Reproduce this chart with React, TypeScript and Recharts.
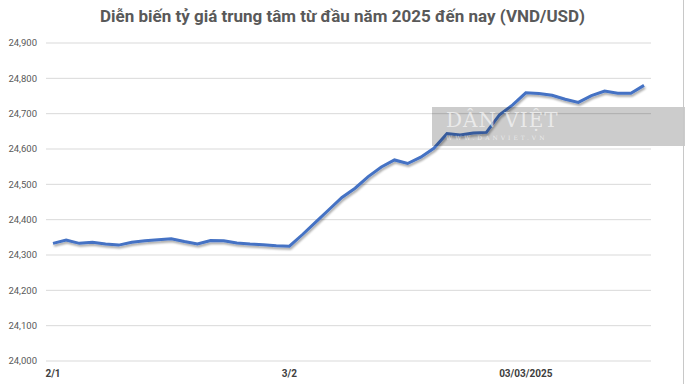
import React from 'react';
import { LineChart, Line, XAxis, YAxis, CartesianGrid } from 'recharts';

const dates = [
  '2/1', '3/1', '6/1', '7/1', '8/1', '9/1', '10/1', '13/1', '14/1', '15/1',
  '16/1', '17/1', '20/1', '21/1', '22/1', '23/1', '24/1', '25/1', '3/2', '4/2',
  '5/2', '6/2', '7/2', '10/2', '11/2', '12/2', '13/2', '14/2', '17/2', '18/2',
  '19/2', '20/2', '21/2', '24/2', '25/2', '26/2', '03/03/2025', '4/3', '5/3', '6/3',
  '7/3', '10/3', '11/3', '12/3', '13/3', '14/3',
];

const rates = [
  24333, 24342, 24333, 24336, 24331, 24328, 24336, 24340, 24343, 24346,
  24338, 24331, 24341, 24340, 24334, 24331, 24329, 24326, 24325, 24358,
  24393, 24428, 24463, 24489, 24522, 24549, 24569, 24559, 24577, 24602,
  24644, 24640, 24645, 24647, 24697, 24725, 24759, 24757, 24752, 24741,
  24732, 24751, 24764, 24758, 24758, 24780,
];

const yTicks = [24000, 24100, 24200, 24300, 24400, 24500, 24600, 24700, 24800, 24900];

const data = dates.map((d, i) => ({ date: d, rate: rates[i] }));

const fmt = (v: number) => v.toLocaleString('en-US');

const App: React.FC = () => {
  return (
    <div
      style={{
        position: 'absolute',
        left: 0,
        top: 0,
        width: 685,
        height: 384,
        background: '#fff',
        fontFamily: 'Roboto, "Open Sans", sans-serif',
      }}
    >
      <svg width={0} height={0} style={{ position: 'absolute' }}>
        <defs>
          <filter id="lineShadow" x="-5%" y="-20%" width="110%" height="140%">
            <feGaussianBlur in="SourceAlpha" stdDeviation="1.2" />
            <feOffset dx="1" dy="2" result="blur" />
            <feComponentTransfer>
              <feFuncA type="linear" slope="0.35" />
            </feComponentTransfer>
            <feMerge>
              <feMergeNode />
              <feMergeNode in="SourceGraphic" />
            </feMerge>
          </filter>
        </defs>
      </svg>
      <div
        style={{
          position: 'absolute',
          top: 6,
          left: 0,
          width: 685,
          textAlign: 'center',
          fontSize: 17,
          fontWeight: 700,
          color: '#595959',
        }}
      >
        Diễn biến tỷ giá trung tâm từ đầu năm 2025 đến nay (VND/USD)
      </div>
      <LineChart
        width={685}
        height={384}
        data={data}
        margin={{ top: 43, right: 34, left: 0, bottom: 0 }}
      >
        <CartesianGrid vertical={false} stroke="#D9D9D9" />
        <XAxis
          dataKey="date"
          interval={17}
          axisLine={false}
          tickLine={false}
          height={23}
          tickMargin={3}
          padding={{ left: 7, right: 7 }}
          tick={{ fontSize: 10, fill: '#404040', fontWeight: 700 }}
        />
        <YAxis
          domain={[24000, 24900]}
          ticks={yTicks}
          width={46}
          axisLine={false}
          tickLine={false}
          tickMargin={3}
          tickFormatter={fmt}
          tick={{ fontSize: 9.5, fill: '#595959' }}
        />
        <Line
          type="linear"
          dataKey="rate"
          stroke="#4472C4"
          strokeWidth={3}
          dot={false}
          filter="url(#lineShadow)"
          isAnimationActive={false}
        />
      </LineChart>
      <div
        style={{
          position: 'absolute',
          left: 432,
          top: 107,
          width: 253,
          height: 39,
          background: 'rgba(0,0,0,0.2)',
          pointerEvents: 'none',
        }}
      >
        <div
          style={{
            position: 'absolute',
            left: 14,
            top: 1,
            fontFamily: '"DejaVu Serif", serif',
            fontSize: 20,
            color: 'rgba(255,255,255,0.6)',
            letterSpacing: 1,
          }}
        >
          DÂN VIỆT
        </div>
        <div
          style={{
            position: 'absolute',
            left: 14,
            top: 27,
            fontFamily: '"DejaVu Serif", serif',
            fontSize: 6,
            color: 'rgba(255,255,255,0.6)',
            letterSpacing: 3,
          }}
        >
          WWW.DANVIET.VN
        </div>
      </div>
      <div
        style={{
          position: 'absolute',
          left: 683,
          top: 0,
          width: 1,
          height: 384,
          background: '#C8C8C8',
        }}
      />
    </div>
  );
};

export default App;
